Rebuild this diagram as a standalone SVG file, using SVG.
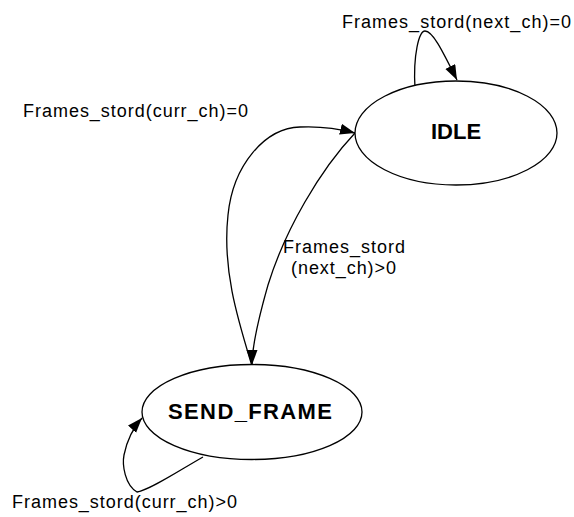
<svg xmlns="http://www.w3.org/2000/svg" width="574" height="517" viewBox="0 0 574 517">
<defs>
<style>
.state{fill:#fff;stroke:#000;stroke-width:1.3}
.name{font-family:"Liberation Sans",Arial,sans-serif;font-weight:bold;font-size:22px;fill:#000}
.lbl{font-family:"Liberation Sans",Arial,sans-serif;font-size:18px;fill:#000}
.edge{fill:none;stroke:#000;stroke-width:1.3}
</style>
<marker id="arr" markerUnits="userSpaceOnUse" markerWidth="16" markerHeight="12" refX="15" refY="5.5" orient="auto">
<path d="M0,0 L15,5.5 L0,11 z" fill="#000"/>
</marker>
</defs>
<rect width="574" height="517" fill="#fff"/>
<g id="connectors">
<path id="e-idle-self" class="edge" marker-end="url(#arr)" d="M415,88 C413,55 419,31 425,31 C433,31 443,52 457,80"/>
<path id="e-send-idle" class="edge" marker-end="url(#arr)" d="M252,366 C238,320 222,270 228,215 C233,165 265,128 300,127 C320,126 340,129 355,133"/>
<path id="e-idle-send" class="edge" marker-end="url(#arr)" d="M355,133 C320,170 285,230 268,285 C258,320 252,345 252,365"/>
<path id="e-send-self" class="edge" marker-end="url(#arr)" d="M203,457 C180,470 150,490 137,492 C125,485 122,465 124,455 C127,440 133,428 142,418"/>
</g>
<g id="idle">
<ellipse class="state" cx="456" cy="133" rx="101" ry="52"/>
<text class="name" x="456" y="139" text-anchor="middle">IDLE</text>
</g>
<g id="send_frame">
<ellipse class="state" cx="252" cy="412" rx="110" ry="47.5"/>
<text class="name" x="168" y="419" textLength="164" lengthAdjust="spacing">SEND_FRAME</text>
</g>
<g id="labels">
<text class="lbl" x="342" y="28" textLength="229" lengthAdjust="spacing">Frames_stord(next_ch)=0</text>
<text class="lbl" x="23" y="117" textLength="225" lengthAdjust="spacing">Frames_stord(curr_ch)=0</text>
<text class="lbl" x="283" y="253" textLength="122" lengthAdjust="spacing">Frames_stord</text>
<text class="lbl" x="291" y="274" textLength="105" lengthAdjust="spacing">(next_ch)&gt;0</text>
<text class="lbl" x="12" y="508" textLength="225" lengthAdjust="spacing">Frames_stord(curr_ch)&gt;0</text>
</g>
</svg>
